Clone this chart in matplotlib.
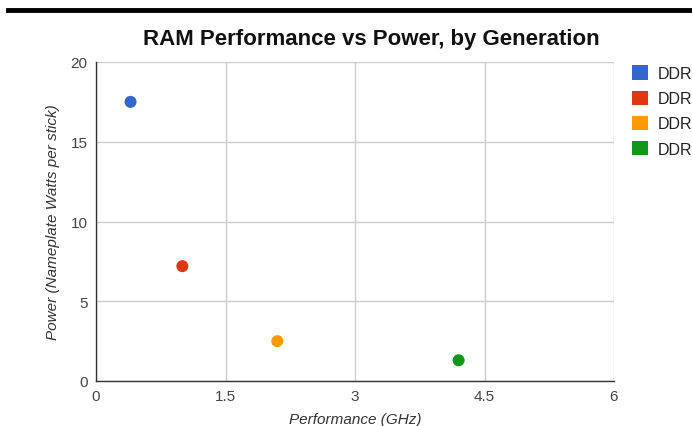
import matplotlib.pyplot as plt
from matplotlib.lines import Line2D
from matplotlib.patches import Patch

# data
generations = ['DDR', 'DDR2', 'DDR3', 'DDR4']
perf_ghz = [0.4, 1.0, 2.1, 4.2]
power_watts = [17.5, 7.2, 2.5, 1.3]
colors = ['#3366cc', '#dc3912', '#ff9900', '#109618']

x_ticks = [0, 1.5, 3, 4.5, 6]
x_tick_labels = ['0', '1.5', '3', '4.5', '6']
y_ticks = [0, 5, 10, 15, 20]

plt.rcParams['font.family'] = ['Liberation Sans', 'DejaVu Sans']

fig = plt.figure(figsize=(6.92, 4.27), dpi=100)
ax = fig.add_axes([96 / 692, 1 - 382 / 427, (614 - 96) / 692, (382 - 63) / 427])

for g, x, y, c in zip(generations, perf_ghz, power_watts, colors):
    ax.scatter(x, y, s=75, color=c, edgecolors='none', zorder=3, label=g)

ax.set_xlim(0, 6)
ax.set_ylim(0, 20)
ax.set_xticks(x_ticks)
ax.set_xticklabels(x_tick_labels)
ax.set_yticks(y_ticks)
ax.grid(True, color='#cccccc', linewidth=1)
ax.set_axisbelow(True)
ax.tick_params(length=0, labelsize=11, labelcolor='#444444', pad=6)

for side in ['top', 'right']:
    ax.spines[side].set_visible(False)
for side in ['left', 'bottom']:
    ax.spines[side].set_color('#333333')
    ax.spines[side].set_linewidth(1)

ax.set_xlabel('Performance (GHz)', fontsize=11, style='italic', color='#333333', labelpad=6)
ax.set_ylabel('Power (Nameplate Watts per stick)', fontsize=11, style='italic', color='#333333', labelpad=8)

fig.text(371 / 692, 1 - 40 / 427, 'RAM Performance vs Power, by Generation',
         ha='center', va='center', fontsize=16, fontweight='bold', color='#111111')

# legend squares on the right, partly cut off by the image edge as in the reference
handles = [Patch(facecolor=c, edgecolor='none') for c in colors]
fig.legend(handles, generations, loc='upper left', bbox_to_anchor=(618 / 692, 1 - 52 / 427),
           frameon=False, fontsize=11.5, handlelength=1.0, handleheight=1.0,
           handletextpad=0.6, labelspacing=0.6, labelcolor='#222222')

# black rule along the top
fig.add_artist(Line2D([8 / 692, 1], [1 - 11 / 427, 1 - 11 / 427], color='black', linewidth=3.5))

fig.savefig('out.png', dpi=100)
